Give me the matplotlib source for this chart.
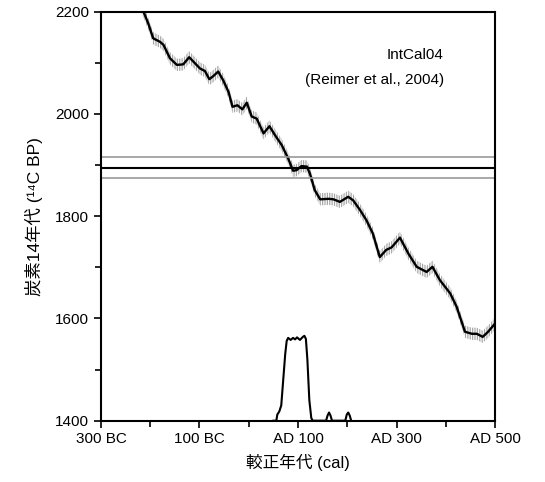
import numpy as np
import matplotlib
matplotlib.use('Agg')
import matplotlib.pyplot as plt

plt.rcParams['font.family'] = ['Liberation Sans', 'Noto Sans CJK JP', 'DejaVu Sans']
plt.rcParams['hatch.linewidth'] = 0.9

# IntCal04 curve (year AD, negative = BC ; 14C BP)
cal_year = [-220, -204, -194, -180, -173, -160, -146, -133, -121, -112, -99, -89, -80, -72,
            -62, -52, -41, -33, -23, -13, -4, 6, 16, 30, 42, 53, 67, 80, 90, 97, 107, 118,
            124, 134, 145, 162, 172, 185, 202, 212, 226, 239, 252, 266, 279, 290, 307, 324,
            341, 361, 373, 388, 409, 422, 439, 453, 463, 475, 486, 500]
c14_bp = [2215, 2177, 2148, 2141, 2135, 2109, 2096, 2097, 2111, 2102, 2089, 2084, 2068, 2074,
          2083, 2066, 2043, 2014, 2017, 2009, 2022, 1995, 1991, 1962, 1976, 1959, 1939, 1913,
          1889, 1890, 1898, 1897, 1884, 1851, 1833, 1834, 1833, 1828, 1838, 1831, 1812, 1792,
          1766, 1720, 1734, 1739, 1758, 1727, 1701, 1691, 1701, 1675, 1649, 1623, 1574, 1570,
          1570, 1564, 1574, 1590]
sigma = 12

# measured age
age = 1895
age_err = 20

# calibrated probability (drawn on the 1400 baseline)
prob_year = [50, 56, 58, 62, 66, 70, 74, 77, 80, 85, 90, 94, 98, 104, 110, 113, 116, 119,
             123, 127, 130, 157, 160, 163, 166, 169, 196, 199, 202, 205, 208]
prob_val = [1400, 1400, 1412, 1418, 1430, 1480, 1530, 1556, 1562, 1558, 1562, 1559, 1563,
            1558, 1564, 1566, 1560, 1520, 1440, 1405, 1400, 1400, 1410, 1416, 1410, 1400,
            1400, 1412, 1416, 1410, 1400]

xticks = [-300, -100, 100, 300, 500]
xlabels = ['300 BC', '100 BC', 'AD 100', 'AD 300', 'AD 500']
yticks = [1400, 1600, 1800, 2000, 2200]

fig = plt.figure(figsize=(5.45, 4.82), dpi=100)
ax = fig.add_axes([0.1853, 0.1272, 0.723, 0.8485])

x = np.array(cal_year)
y = np.array(c14_bp)
ax.fill_between(x, y - sigma, y + sigma, facecolor='none', edgecolor='#a8a8a8',
                hatch='|||||||', linewidth=0)
ax.plot(x, y, color='black', lw=1.7)

ax.axhline(age + age_err, color='#999999', lw=1.2)
ax.axhline(age, color='black', lw=1.5)
ax.axhline(age - age_err, color='#999999', lw=1.2)

ax.plot(prob_year, prob_val, color='black', lw=1.5, clip_on=False)

ax.text(0.87, 0.895, 'IntCal04', transform=ax.transAxes, ha='right', va='center', fontsize=11)
ax.text(0.87, 0.833, '(Reimer et al., 2004)', transform=ax.transAxes, ha='right',
        va='center', fontsize=11)

ax.set_xlim(-300, 500)
ax.set_ylim(1400, 2200)
ax.set_xticks(xticks)
ax.set_xticklabels(xlabels)
ax.set_xticks(range(-200, 500, 200), minor=True)
ax.set_yticks(yticks)
ax.set_yticks(range(1500, 2200, 200), minor=True)
ax.tick_params(direction='out', length=5, width=1.2, labelsize=11)
ax.tick_params(which='minor', direction='out', length=4, width=1.2)
for sp in ax.spines.values():
    sp.set_linewidth(1.5)

ax.set_xlabel('較正年代 (cal)', fontsize=12, labelpad=5)
ax.set_ylabel('炭素14年代 (¹⁴C BP)', fontsize=12.5, labelpad=9)

fig.savefig('out.png', dpi=100)
